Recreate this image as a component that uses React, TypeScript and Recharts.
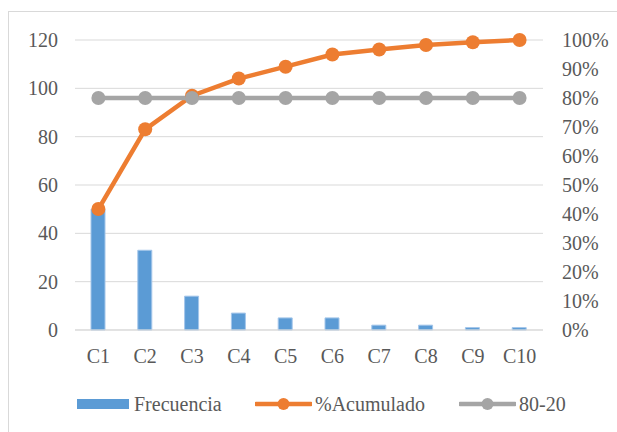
import {
  ComposedChart,
  Bar,
  Line,
  XAxis,
  YAxis,
  CartesianGrid,
  Legend,
} from "recharts";

const categorias = ["C1", "C2", "C3", "C4", "C5", "C6", "C7", "C8", "C9", "C10"];
const frecuencia = [50, 33, 14, 7, 5, 5, 2, 2, 1, 1];
const acumulado = [0.417, 0.692, 0.808, 0.867, 0.908, 0.95, 0.967, 0.983, 0.992, 1];
const linea8020 = [0.8, 0.8, 0.8, 0.8, 0.8, 0.8, 0.8, 0.8, 0.8, 0.8];

const ticksIzq = [0, 20, 40, 60, 80, 100, 120];
const ticksDer = [0, 0.1, 0.2, 0.3, 0.4, 0.5, 0.6, 0.7, 0.8, 0.9, 1];

const data = categorias.map((c, i) => ({
  name: c,
  Frecuencia: frecuencia[i],
  "%Acumulado": acumulado[i],
  "80-20": linea8020[i],
}));

const AZUL = "#5B9BD5";
const NARANJA = "#ED7D31";
const GRIS = "#A5A5A5";
const TEXTO = "#595959";
const FONT = "Liberation Serif, Tinos, Nimbus Roman, DejaVu Serif, serif";

const tickStyle = { fontSize: 20, fill: TEXTO, fontFamily: FONT };

function LeyendaLinea({ color }: { color: string }) {
  return (
    <svg width={57} height={14} style={{ display: "block" }}>
      <line x1={1} y1={7} x2={56} y2={7} stroke={color} strokeWidth={4.5} strokeLinecap="round" />
      <circle cx={28.5} cy={7} r={6} fill={color} />
    </svg>
  );
}

function Leyenda() {
  const item = { display: "flex", alignItems: "center", position: "absolute", top: 0 } as const;
  const texto = { fontSize: 20, color: TEXTO, fontFamily: FONT, lineHeight: "24px" };
  return (
    <div style={{ position: "relative", height: 24 }}>
      <div style={{ ...item, left: 77 }}>
        <div style={{ width: 52, height: 10, background: AZUL }} />
        <span style={{ ...texto, marginLeft: 5 }}>Frecuencia</span>
      </div>
      <div style={{ ...item, left: 255 }}>
        <LeyendaLinea color={NARANJA} />
        <span style={{ ...texto, marginLeft: 3 }}>%Acumulado</span>
      </div>
      <div style={{ ...item, left: 459 }}>
        <LeyendaLinea color={GRIS} />
        <span style={{ ...texto, marginLeft: 3 }}>80-20</span>
      </div>
    </div>
  );
}

export default function App() {
  return (
    <div
      style={{
        position: "absolute",
        left: 0,
        top: 0,
        width: 617,
        height: 432,
        background: "#fff",
        overflow: "hidden",
      }}
    >
      <div
        style={{
          position: "absolute",
          left: 8,
          top: 11,
          width: 640,
          height: 440,
          border: "1px solid #d9d9d9",
        }}
      />
      <div style={{ position: "absolute", left: 0, top: 0 }}>
        <ComposedChart
          width={617}
          height={432}
          data={data}
          margin={{ top: 40, right: 0, bottom: 62, left: 0 }}
          barCategoryGap={0}
        >
          <CartesianGrid vertical={false} stroke="#d9d9d9" yAxisId="left" />
          <XAxis
            dataKey="name"
            axisLine={{ stroke: "#d9d9d9" }}
            tickLine={false}
            tickSize={6}
            tickMargin={13}
            height={40}
            tick={tickStyle}
            interval={0}
          />
          <YAxis
            yAxisId="left"
            domain={[0, 120]}
            ticks={ticksIzq}
            width={75}
            axisLine={false}
            tickLine={false}
            tickSize={6}
            tickMargin={11}
            tick={tickStyle}
          />
          <YAxis
            yAxisId="right"
            orientation="right"
            domain={[0, 1]}
            ticks={ticksDer}
            width={74}
            axisLine={false}
            tickLine={false}
            tickSize={6}
            tickMargin={13}
            tick={{ ...tickStyle, textAnchor: "start" }}
            tickFormatter={(v: number) => `${Math.round(v * 100)}%`}
          />
          <Legend
            layout="horizontal"
            verticalAlign="middle"
            align="center"
            wrapperStyle={{ left: 0, top: 392, width: 617 }}
            content={() => <Leyenda />}
          />
          <Bar
            yAxisId="left"
            dataKey="Frecuencia"
            fill={AZUL}
            stroke="#a4c6ea"
            strokeWidth={1}
            barSize={14}
            isAnimationActive={false}
          />
          <Line
            yAxisId="right"
            dataKey="%Acumulado"
            stroke={NARANJA}
            strokeWidth={4.5}
            dot={{ r: 7, fill: NARANJA, stroke: NARANJA, strokeWidth: 0 }}
            activeDot={false}
            isAnimationActive={false}
          />
          <Line
            yAxisId="right"
            dataKey="80-20"
            stroke={GRIS}
            strokeWidth={4.5}
            dot={{ r: 7, fill: GRIS, stroke: GRIS, strokeWidth: 0 }}
            activeDot={false}
            isAnimationActive={false}
          />
        </ComposedChart>
      </div>
    </div>
  );
}
